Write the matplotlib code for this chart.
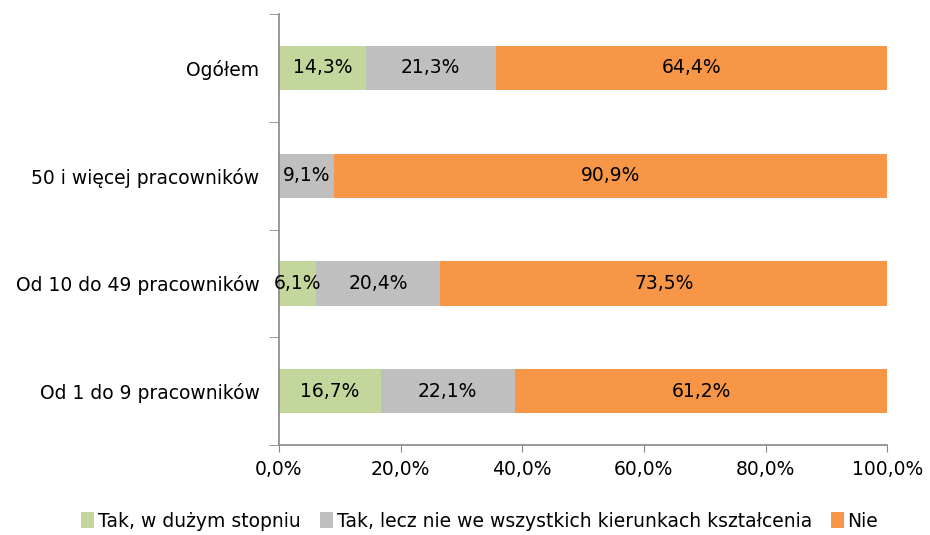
import matplotlib.pyplot as plt
import numpy as np

kategorie = ["Od 1 do 9 pracowników", "Od 10 do 49 pracowników",
             "50 i więcej pracowników", "Ogółem"]
tak_duzy = [16.7, 6.1, 0.0, 14.3]
tak_czesc = [22.1, 20.4, 9.1, 21.3]
nie = [61.2, 73.5, 90.9, 64.4]
serie = ["Tak, w dużym stopniu",
         "Tak, lecz nie we wszystkich kierunkach kształcenia", "Nie"]
kolory = ["#C3D69B", "#BFBFBF", "#F79646"]
x_ticks = [0, 20, 40, 60, 80, 100]

plt.rcParams['font.family'] = ['DejaVu Sans']
fig = plt.figure(figsize=(9.3, 5.35), dpi=100)
ax = fig.add_axes([0.3, 0.168, 0.654, 0.806])

y = np.arange(len(kategorie))
lewo = np.zeros(len(kategorie))
for wart, kol, nazwa in zip([tak_duzy, tak_czesc, nie], kolory, serie):
    wart = np.array(wart)
    ax.barh(y, wart, left=lewo, height=0.41, color=kol, label=nazwa,
            edgecolor='none')
    for yi, l, w in zip(y, lewo, wart):
        if w > 0:
            ax.text(l + w / 2, yi, f"{w:.1f}%".replace('.', ','),
                    ha='center', va='center', fontsize=13.5, color='black')
    lewo += wart

ax.set_xlim(0, 100)
ax.set_ylim(-0.5, 3.5)
ax.set_xticks(x_ticks)
ax.set_xticklabels([f"{v:.1f}%".replace('.', ',') for v in x_ticks], fontsize=13.5)
ax.set_yticks(y)
ax.set_yticklabels(kategorie, fontsize=13.5)
ax.tick_params(axis='y', length=0, pad=14)
ax.set_yticks(np.arange(-0.5, 4.0, 1.0), minor=True)
ax.tick_params(axis='y', which='minor', length=7, color='#888888')
ax.tick_params(axis='x', length=5, color='#888888', pad=6)
for s in ['top', 'right']:
    ax.spines[s].set_visible(False)
for s in ['left', 'bottom']:
    ax.spines[s].set_color('#888888')
    ax.spines[s].set_linewidth(1.2)

ax.legend(loc='upper center', bbox_to_anchor=(0.33, -0.115), ncol=3,
          frameon=False, fontsize=13.5, handlelength=0.7, handleheight=0.9,
          handletextpad=0.2, columnspacing=1.0)

fig.savefig("out.png", dpi=100)
